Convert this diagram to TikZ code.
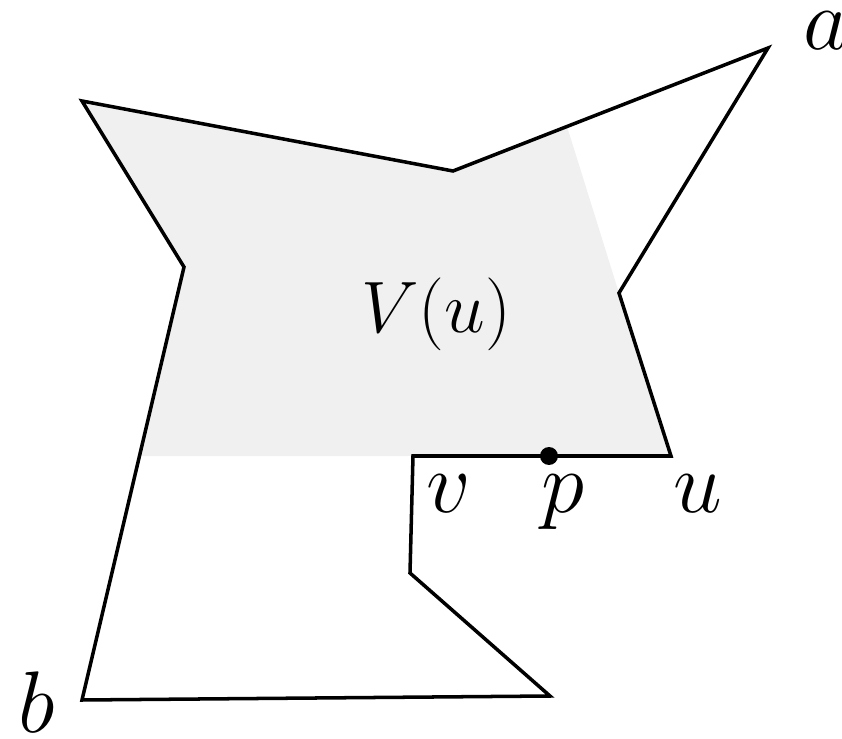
\documentclass[tikz,border=0pt]{standalone}
\usepackage{tikz}
\usetikzlibrary{calc}

\begin{document}
\begin{tikzpicture}[line width=1pt, line join=miter,
    lbl/.style={inner sep=0pt, anchor=base west, font=\fontsize{23}{27}\selectfont}]
    \useasboundingbox (0,0) rectangle (8.42,-7.39);

    % polygon vertices
    \coordinate (a)  at (7.68,-0.48);
    \coordinate (d)  at (4.53,-1.71);
    \coordinate (tl) at (0.82,-1.01);
    \coordinate (l)  at (1.84,-2.67);
    \coordinate (b)  at (0.82,-7.00);
    \coordinate (br) at (5.50,-6.96);
    \coordinate (vb) at (4.10,-5.73);
    \coordinate (v)  at (4.13,-4.56);
    \coordinate (u)  at (6.71,-4.56);
    \coordinate (r)  at (6.19,-2.93);
    \coordinate (p)  at (5.49,-4.56);

    % visibility region
    \fill[black!6] (tl) -- (d) -- ($(d)!0.362!(a)$) -- (r) -- (u) -- (v)
        -- ($(l)!0.4365!(b)$) -- (l) -- cycle;

    \draw (a) -- (d) -- (tl) -- (l) -- (b) -- (br) -- (vb) -- (v)
        -- (u) -- (r) -- cycle;
    \fill (p) circle (0.09);

    \node[lbl] (la) at (8.02,-0.50) {$a$};
    \node[lbl] (lb) at (0.17,-7.32) {$b$};
    \node[lbl] (lv) at (4.25,-5.12) {$v$};
    \node[lbl] (lp) at (5.40,-5.12) {$p$};
    \node[lbl] (lu) at (6.72,-5.12) {$u$};
    \node[lbl, anchor=base, font=\fontsize{22}{26}\selectfont] (lV) at (4.36,-3.32) {$V(u)$};
\end{tikzpicture}
\end{document}
